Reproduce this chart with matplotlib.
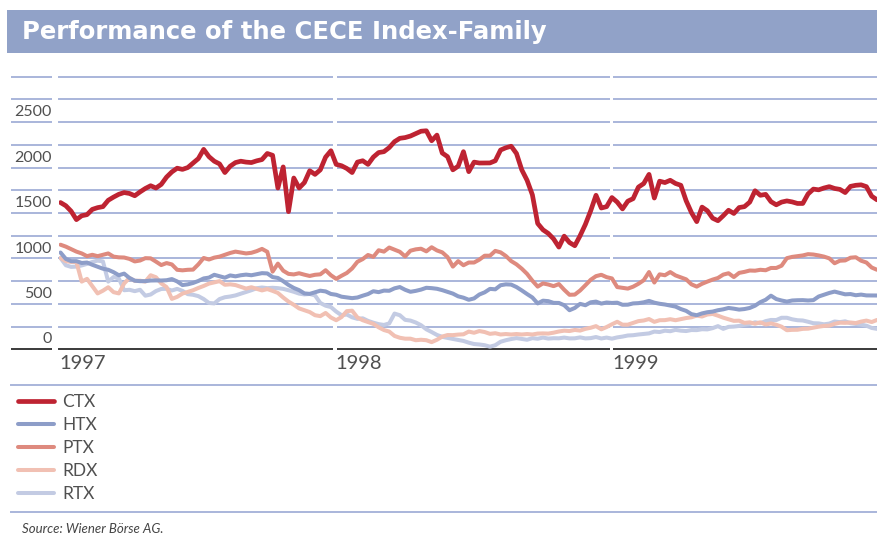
import numpy as np
import pandas as pd
import matplotlib
matplotlib.use("Agg")
import matplotlib.pyplot as plt
from matplotlib.patches import Rectangle
from matplotlib.lines import Line2D

# weekly index values, Jan 1997 - Dec 1999
dates = pd.date_range("1997-01-03", periods=155, freq="7D")

ctx = [1490, 1455, 1395, 1302, 1345, 1357, 1415, 1434, 1445, 1515,
       1550, 1581, 1600, 1590, 1565, 1607, 1645, 1675, 1650, 1690,
       1770, 1827, 1868, 1855, 1875, 1925, 1974, 2075, 1995, 1945,
       1915, 1820, 1890, 1930, 1945, 1935, 1930, 1949, 1963, 2030,
       2010, 1650, 1882, 1390, 1760, 1650, 1710, 1840, 1800, 1850,
       1990, 2060, 1910, 1895, 1865, 1820, 1935, 1950, 1910, 1990,
       2040, 2050, 2095, 2160, 2197, 2205, 2222, 2248, 2275, 2280,
       2170, 2232, 2035, 1995, 1850, 1890, 2050, 1830, 1935, 1925,
       1925, 1926, 1950, 2068, 2093, 2110, 2030, 1850, 1735, 1575,
       1260, 1190, 1150, 1090, 1000, 1120, 1050, 1015, 1125, 1250,
       1400, 1570, 1430, 1445, 1545, 1495, 1420, 1505, 1533, 1660,
       1699, 1800, 1540, 1725, 1710, 1735, 1700, 1680, 1510, 1380,
       1280, 1440, 1400, 1318, 1290, 1345, 1405, 1370, 1435, 1445,
       1495, 1620, 1570, 1580, 1500, 1465, 1495, 1508, 1497, 1480,
       1480, 1585, 1638, 1630, 1650, 1665, 1645, 1635, 1600, 1668,
       1680, 1685, 1665, 1560, 1520]

ptx = [1026, 1005, 978, 950, 930, 900, 915, 900, 915, 930,
       895, 887, 885, 870, 842, 852, 878, 876, 840, 802,
       824, 809, 750, 744, 750, 752, 810, 880, 863, 884,
       895, 915, 935, 950, 940, 930, 937, 955, 980, 948,
       730, 818, 740, 705, 699, 712, 696, 682, 695, 700,
       745, 690, 650, 684, 715, 765, 838, 868, 913, 892,
       965, 950, 995, 972, 948, 897, 960, 975, 982, 953,
       998, 963, 942, 890, 785, 845, 800, 830, 830, 862,
       905, 905, 958, 942, 902, 846, 810, 762, 705, 630,
       565, 600, 588, 570, 593, 530, 475, 477, 522, 580,
       640, 680, 695, 669, 655, 560, 552, 543, 564, 596,
       635, 725, 610, 700, 690, 725, 688, 667, 645, 590,
       565, 596, 620, 642, 660, 697, 712, 670, 716, 727,
       742, 740, 750, 745, 770, 770, 795, 878, 892, 900,
       908, 922, 918, 908, 895, 876, 822, 850, 853, 883,
       888, 850, 830, 775, 750]

htx = [940, 870, 845, 845, 825, 830, 805, 783, 762, 750,
       724, 690, 708, 660, 630, 625, 625, 632, 633, 632,
       635, 648, 622, 582, 590, 605, 627, 655, 664, 695,
       679, 663, 688, 678, 690, 697, 690, 701, 713, 710,
       670, 660, 625, 583, 550, 526, 490, 485, 503, 520,
       512, 484, 475, 454, 446, 438, 445, 465, 483, 514,
       504, 521, 519, 546, 560, 530, 508, 518, 532, 552,
       548, 541, 526, 507, 488, 458, 443, 420, 435, 478,
       502, 540, 535, 580, 590, 587, 560, 523, 483, 445,
       380, 410, 405, 386, 385, 360, 305, 330, 375, 360,
       392, 400, 378, 390, 385, 388, 365, 366, 380, 383,
       392, 408, 388, 376, 368, 357, 345, 318, 298, 262,
       250, 270, 283, 290, 305, 315, 330, 322, 312, 318,
       330, 355, 394, 420, 465, 428, 412, 400, 412, 415,
       416, 412, 416, 456, 475, 495, 510, 495, 480, 483,
       470, 477, 468, 467, 467]

rdx = [880, 845, 836, 835, 620, 650, 570, 490, 520, 558,
       504, 490, 600, 660, 628, 630, 620, 690, 668, 600,
       560, 430, 452, 488, 506, 525, 550, 572, 598, 612,
       625, 585, 590, 582, 562, 543, 558, 541, 523, 538,
       518, 495, 445, 400, 365, 325, 305, 285, 250, 240,
       275, 225, 195, 230, 295, 300, 225, 195, 175, 155,
       117, 87, 70, 22, 2, -8, -8, -25, -20, -25,
       -46, -20, 15, 32, 31, 37, 40, 70, 57, 76,
       65, 45, 52, 38, 43, 38, 43, 38, 43, 38,
       48, 50, 48, 58, 71, 80, 76, 88, 81, 100,
       112, 130, 95, 120, 150, 178, 146, 146, 165, 185,
       192, 208, 177, 195, 196, 206, 195, 207, 219, 227,
       246, 236, 258, 264, 245, 223, 205, 188, 190, 166,
       172, 156, 172, 148, 160, 145, 124, 85, 89, 90,
       100, 102, 113, 124, 132, 135, 155, 168, 166, 170,
       164, 180, 191, 175, 198]

rtx = [880, 800, 782, 785, 798, 815, 836, 851, 842, 620,
       670, 655, 525, 530, 515, 530, 465, 478, 516, 539,
       541, 522, 540, 518, 482, 475, 460, 428, 385, 380,
       428, 448, 456, 468, 487, 506, 525, 547, 555, 548,
       552, 548, 540, 525, 508, 488, 479, 484, 468, 385,
       355, 340, 290, 250, 258, 227, 210, 216, 188, 168,
       152, 143, 160, 268, 250, 199, 191, 170, 140, 95,
       65, 33, 12, 0, -11, -22, -33, -52, -67, -72,
       -80, -96, -80, -42, -25, -12, -2, -11, -20, -2,
       -9, 4, -7, -3, -4, 4, -5, -4, 6, -5,
       -2, 10, -6, 4, -8, 6, 15, 27, 30, 38,
       44, 50, 70, 65, 80, 74, 89, 80, 76, 87,
       86, 96, 94, 108, 130, 100, 122, 125, 132, 145,
       154, 172, 162, 185, 198, 197, 222, 222, 205, 195,
       192, 178, 162, 160, 150, 158, 181, 174, 183, 162,
       154, 146, 135, 110, 100]

yticks = [0, 500, 1000, 1500, 2000, 2500]
years = ["1997", "1998", "1999"]

grid_c = "#a9b6da"
text_c = "#505050"
W, H = 877, 539

fig = plt.figure(figsize=(W / 100, H / 100), dpi=100)
ax = fig.add_axes([59 / W, (H - 349.3) / H, 818 / W, (349.3 - 76.7) / H])
ax.set_ylim(-125, 2875)
ax.set_xlim(pd.Timestamp("1997-01-01"), pd.Timestamp("1999-12-17"))
for s in ax.spines.values():
    s.set_visible(False)

# grid lines, also running through the label column on the left
ytr = ax.get_yaxis_transform()
for v in np.arange(-125, 2876, 250):
    c = "#3a3a3a" if v == -125 else grid_c
    ax.axhline(v, color=c, lw=1.4, zorder=1, clip_on=False)
    ax.plot([-48 / 818, -7 / 818], [v, v], transform=ytr, color=c,
            lw=1.4, clip_on=False, solid_capstyle="butt")

# white gaps at the turn of each year
for y in years[1:]:
    t = pd.Timestamp(y + "-01-01")
    ax.axvspan(t - pd.Timedelta(days=3), t + pd.Timedelta(days=2), ymin=-0.01, ymax=1.01,
               color="white", lw=0, zorder=2, clip_on=False)

series = [("RTX", rtx, "#c3cbe3", 2.9), ("RDX", rdx, "#f1c0b3", 2.9),
          ("HTX", htx, "#8d9dc8", 2.9), ("PTX", ptx, "#de8a7e", 2.9),
          ("CTX", ctx, "#be2332", 3.4)]
handles = {}
for name, vals, col, lw in series:
    ln, = ax.plot(dates, vals, color=col, lw=lw, zorder=3,
                  solid_capstyle="round", solid_joinstyle="round")
    handles[name] = ln

font = "Lato"
ax.set_yticks(yticks)
ax.set_yticklabels([str(v) for v in yticks], fontfamily=font,
                   fontsize=11.5, color=text_c)
ax.tick_params(axis="y", length=0, pad=5)
ax.set_xticks([pd.Timestamp(y + "-01-01") for y in years])
ax.set_xticklabels(years, fontfamily=font, fontsize=14.5, color=text_c)
for lab in ax.get_xticklabels():
    lab.set_horizontalalignment("left")
ax.tick_params(axis="x", length=0, pad=4)

order = ["CTX", "HTX", "PTX", "RDX", "RTX"]
fig.legend([handles[n] for n in order], order, loc="upper left",
           bbox_to_anchor=(18 / W, 1 - 394 / H), frameon=False,
           prop={"family": font, "size": 12.5}, labelcolor=text_c,
           handlelength=2.1, handletextpad=0.45, labelspacing=0.4,
           borderpad=0, borderaxespad=0)

# separator lines around the legend
for yy in (385, 512):
    fig.add_artist(Line2D([11 / W, 1], [1 - yy / H, 1 - yy / H],
                          color=grid_c, lw=1.4, transform=fig.transFigure))

# title bar
fig.add_artist(Rectangle((7 / W, 1 - 53 / H), 870 / W, 43 / H,
                         transform=fig.transFigure, color="#91a2c8", lw=0, zorder=0))
fig.text(22 / W, 1 - 31.5 / H, "Performance of the CECE Index-Family",
         color="white", fontsize=17.5, fontweight="bold", va="center", ha="left")

fig.text(22 / W, 1 - 529 / H, "Source: Wiener Börse AG.", fontfamily=font,
         style="italic", fontsize=9.5, color="#444444", va="center", ha="left")

fig.savefig("out.png", dpi=100)
